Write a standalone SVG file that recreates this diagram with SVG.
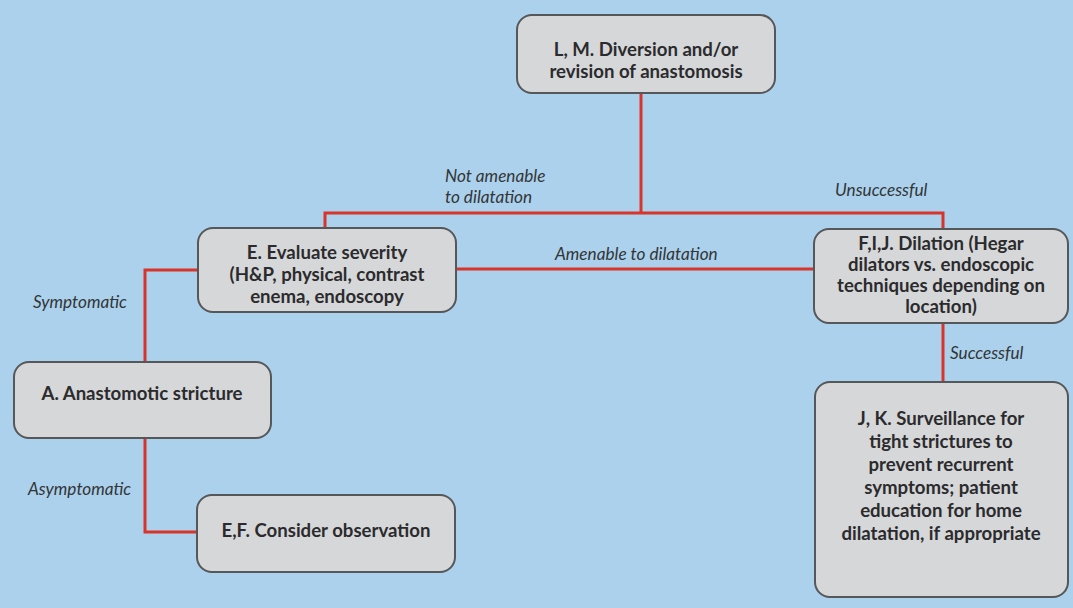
<svg xmlns="http://www.w3.org/2000/svg" width="1073" height="608" viewBox="0 0 1073 608">
  <style>
    .node rect { fill: #d6d7d9; stroke: #555759; stroke-width: 2; }
    .node text { font-family: "Lato", "Liberation Sans", sans-serif; font-weight: bold; font-size: 18.6px; fill: #2b2b2d; text-anchor: middle; }
    .link { fill: none; stroke: #d8352a; stroke-width: 3; }
    .label { font-family: "Lato", "Liberation Sans", sans-serif; font-style: italic; font-size: 17.2px; fill: #333537; }
  </style>
  <rect x="0" y="0" width="1073" height="608" fill="#abd1ec"/>

  <!-- connectors -->
  <g id="connectors">
    <path class="link" d="M641,93 V213"/>
    <path class="link" d="M325,228 V213 H943 V229"/>
    <path class="link" d="M456,269 H814"/>
    <path class="link" d="M145,362 V270 H198"/>
    <path class="link" d="M145,438 V532 H197"/>
    <path class="link" d="M943,323 V382"/>
    <text class="label" x="445" y="182">Not amenable</text>
    <text class="label" x="445" y="203">to dilatation</text>
    <text class="label" x="835" y="196">Unsuccessful</text>
    <text class="label" x="555" y="260">Amenable to dilatation</text>
    <text class="label" x="33" y="308">Symptomatic</text>
    <text class="label" x="28" y="495">Asymptomatic</text>
    <text class="label" x="950" y="359">Successful</text>
  </g>

  <g id="node-lm" class="node">
    <rect x="517" y="15" width="258" height="78" rx="15"/>
    <text x="646" y="56">L, M. Diversion and/or</text>
    <text x="646" y="78">revision of anastomosis</text>
  </g>

  <g id="node-e" class="node">
    <rect x="198" y="228" width="258" height="84" rx="15"/>
    <text x="327" y="259">E. Evaluate severity</text>
    <text x="327" y="281">(H&amp;P, physical, contrast</text>
    <text x="327" y="303">enema, endoscopy</text>
  </g>

  <g id="node-fij" class="node">
    <rect x="814" y="229" width="254" height="94" rx="15"/>
    <text x="941" y="250">F,I,J. Dilation (Hegar</text>
    <text x="941" y="271">dilators vs. endoscopic</text>
    <text x="941" y="292">techniques depending on</text>
    <text x="941" y="313">location)</text>
  </g>

  <g id="node-a" class="node">
    <rect x="14" y="362" width="257" height="76" rx="15"/>
    <text x="142" y="400">A. Anastomotic stricture</text>
  </g>

  <g id="node-ef" class="node">
    <rect x="197" y="495" width="258" height="77" rx="15"/>
    <text x="326" y="537">E,F. Consider observation</text>
  </g>

  <g id="node-jk" class="node">
    <rect x="815" y="382" width="253" height="215" rx="15"/>
    <text x="941" y="425">J, K. Surveillance for</text>
    <text x="941" y="448">tight strictures to</text>
    <text x="941" y="471">prevent recurrent</text>
    <text x="941" y="494">symptoms; patient</text>
    <text x="941" y="517">education for home</text>
    <text x="941" y="540">dilatation, if appropriate</text>
  </g>
</svg>
